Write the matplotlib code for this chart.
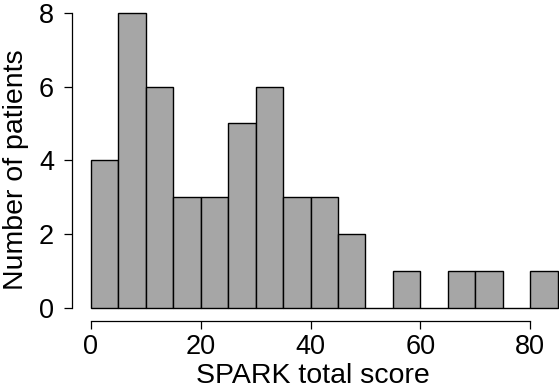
import matplotlib
matplotlib.use("Agg")
import matplotlib.pyplot as plt
import numpy as np

bin_edges = [0, 5, 10, 15, 20, 25, 30, 35, 40, 45, 50, 55, 60, 65, 70, 75, 80, 85]
counts = [4, 8, 6, 3, 3, 5, 6, 3, 3, 2, 0, 1, 0, 1, 1, 0, 1]
x_ticks = [0, 20, 40, 60, 80]
y_ticks = [0, 2, 4, 6, 8]

plt.rcParams['font.family'] = ['Liberation Sans', 'DejaVu Sans']

W, H = 559, 389
fig = plt.figure(figsize=(W / 100, H / 100), dpi=100)
left = 91 / W
right = 557.5 / W
bottom = 1 - 308 / H
top = 1 - 12.7 / H
ax = fig.add_axes([left, bottom, right - left, top - bottom])

edges = np.array(bin_edges)
ax.bar(edges[:-1], counts, width=np.diff(edges), align='edge',
       color='#a6a6a6', edgecolor='black', linewidth=1.0, clip_on=False)

ax.set_xlim(0, 85)
ax.set_ylim(0, 8)

for s in ['top', 'right']:
    ax.spines[s].set_visible(False)
ax.spines['left'].set_position(('outward', 14))
ax.spines['bottom'].set_position(('outward', 9))
ax.spines['left'].set_bounds(0, 8)
ax.spines['bottom'].set_bounds(0, 80)
for s in ['left', 'bottom']:
    ax.spines[s].set_linewidth(0.9)

ax.set_xticks(x_ticks)
ax.set_yticks(y_ticks)
ax.tick_params(axis='both', labelsize=19.5, width=0.9, length=5.5, color='black')
ax.tick_params(axis='y', pad=7)
ax.tick_params(axis='x', pad=4)

ax.set_xlabel('SPARK total score', fontsize=20.5)
ax.set_ylabel('Number of patients', fontsize=20.5)
ax.xaxis.set_label_coords(0.476, -0.186)
ax.yaxis.set_label_coords(-0.133, 0.467)

fig.savefig('out.png', dpi=100)
